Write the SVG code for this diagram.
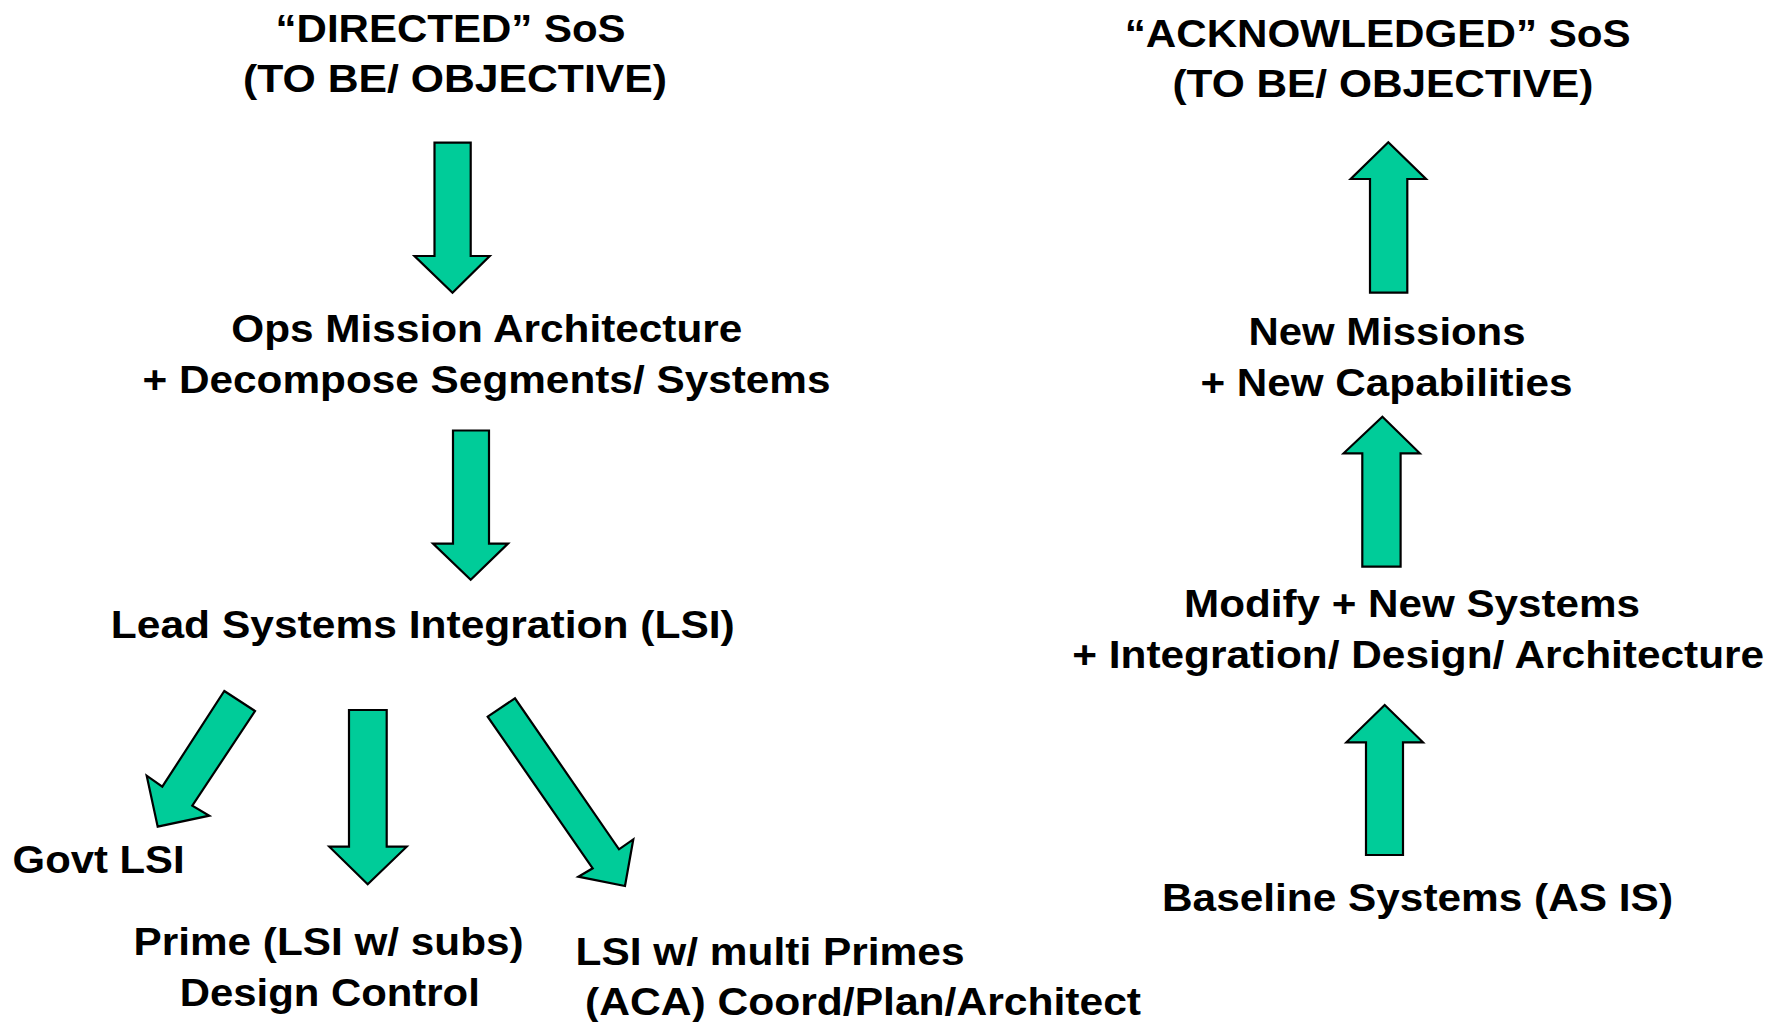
<svg xmlns="http://www.w3.org/2000/svg" width="1783" height="1022" viewBox="0 0 1783 1022">
  <style>
    .lbl { font-family: "Liberation Sans", Arial, sans-serif; font-weight: bold; font-size: 38px; fill: #000; }
    .mid { text-anchor: middle; }
    .arrow { fill: #00CC99; stroke: #000; stroke-width: 2.2; stroke-linejoin: miter; }
  </style>
  <rect width="1783" height="1022" fill="#fff"/>

  <!-- Directed SoS (top-down) -->
  <g id="directed-sos">
    <text class="lbl mid" x="450.6" y="42" textLength="350" lengthAdjust="spacingAndGlyphs">“DIRECTED” SoS</text>
    <text class="lbl mid" x="455" y="92" textLength="424" lengthAdjust="spacingAndGlyphs">(TO BE/ OBJECTIVE)</text>
  </g>
  <g id="ops-mission">
    <text class="lbl mid" x="486.8" y="342" textLength="511" lengthAdjust="spacingAndGlyphs">Ops Mission Architecture</text>
    <text class="lbl mid" x="486.5" y="393" textLength="688" lengthAdjust="spacingAndGlyphs">+ Decompose Segments/ Systems</text>
  </g>
  <g id="lsi">
    <text class="lbl mid" x="422.8" y="638" textLength="624" lengthAdjust="spacingAndGlyphs">Lead Systems Integration (LSI)</text>
  </g>
  <g id="govt-lsi">
    <text class="lbl" x="12.6" y="873" textLength="172" lengthAdjust="spacingAndGlyphs">Govt LSI</text>
  </g>
  <g id="prime">
    <text class="lbl mid" x="328.6" y="955" textLength="390" lengthAdjust="spacingAndGlyphs">Prime (LSI w/ subs)</text>
    <text class="lbl mid" x="329.8" y="1006" textLength="300" lengthAdjust="spacingAndGlyphs">Design Control</text>
  </g>
  <g id="multi-primes">
    <text class="lbl" x="575.5" y="965" textLength="389" lengthAdjust="spacingAndGlyphs">LSI w/ multi Primes</text>
    <text class="lbl" x="585" y="1015" textLength="556" lengthAdjust="spacingAndGlyphs">(ACA) Coord/Plan/Architect</text>
  </g>

  <!-- Acknowledged SoS (bottom-up) -->
  <g id="acknowledged-sos">
    <text class="lbl mid" x="1377.7" y="46.7" textLength="506" lengthAdjust="spacingAndGlyphs">“ACKNOWLEDGED” SoS</text>
    <text class="lbl mid" x="1382.9" y="96.7" textLength="421" lengthAdjust="spacingAndGlyphs">(TO BE/ OBJECTIVE)</text>
  </g>
  <g id="new-missions">
    <text class="lbl mid" x="1387" y="345" textLength="277" lengthAdjust="spacingAndGlyphs">New Missions</text>
    <text class="lbl mid" x="1386.4" y="396" textLength="372" lengthAdjust="spacingAndGlyphs">+ New Capabilities</text>
  </g>
  <g id="modify-systems">
    <text class="lbl mid" x="1412" y="617" textLength="456" lengthAdjust="spacingAndGlyphs">Modify + New Systems</text>
    <text class="lbl mid" x="1418.2" y="668" textLength="692" lengthAdjust="spacingAndGlyphs">+ Integration/ Design/ Architecture</text>
  </g>
  <g id="baseline-systems">
    <text class="lbl mid" x="1417.5" y="911" textLength="511" lengthAdjust="spacingAndGlyphs">Baseline Systems (AS IS)</text>
  </g>

  <!-- Block arrows -->
  <g id="connectors">
    <polygon class="arrow" points="434.5,142.7 470.7,142.7 470.7,256 489.7,256 452.5,292.7 414.5,256 434.5,256"/>
    <polygon class="arrow" points="453,430.5 489,430.5 489,543.6 508,543.6 470.7,579.7 433,543.6 453,543.6"/>
    <polygon class="arrow" points="224.3,691 255,711 192.3,805.7 209.3,815.7 157.7,826.7 146.7,775.7 162.3,786.7"/>
    <polygon class="arrow" points="349,710 386.7,710 386.7,846.7 406.7,846.7 367.7,884.3 329.3,846.7 349,846.7"/>
    <polygon class="arrow" points="487.7,716.7 515,698.3 619,849.3 633.3,839.3 625,886 578.3,876.7 592.7,868.3"/>
    <polygon class="arrow" points="1370,292.7 1407.3,292.7 1407.3,179 1426,179 1388.3,142.3 1350.7,179 1370,179"/>
    <polygon class="arrow" points="1362.3,566.7 1400.6,566.7 1400.6,453.3 1419.8,453.3 1382.4,416.7 1343.6,453.3 1362.3,453.3"/>
    <polygon class="arrow" points="1366,855 1403,855 1403,742.3 1423,742.3 1384.7,705 1346.4,742.3 1366,742.3"/>
  </g>
</svg>
